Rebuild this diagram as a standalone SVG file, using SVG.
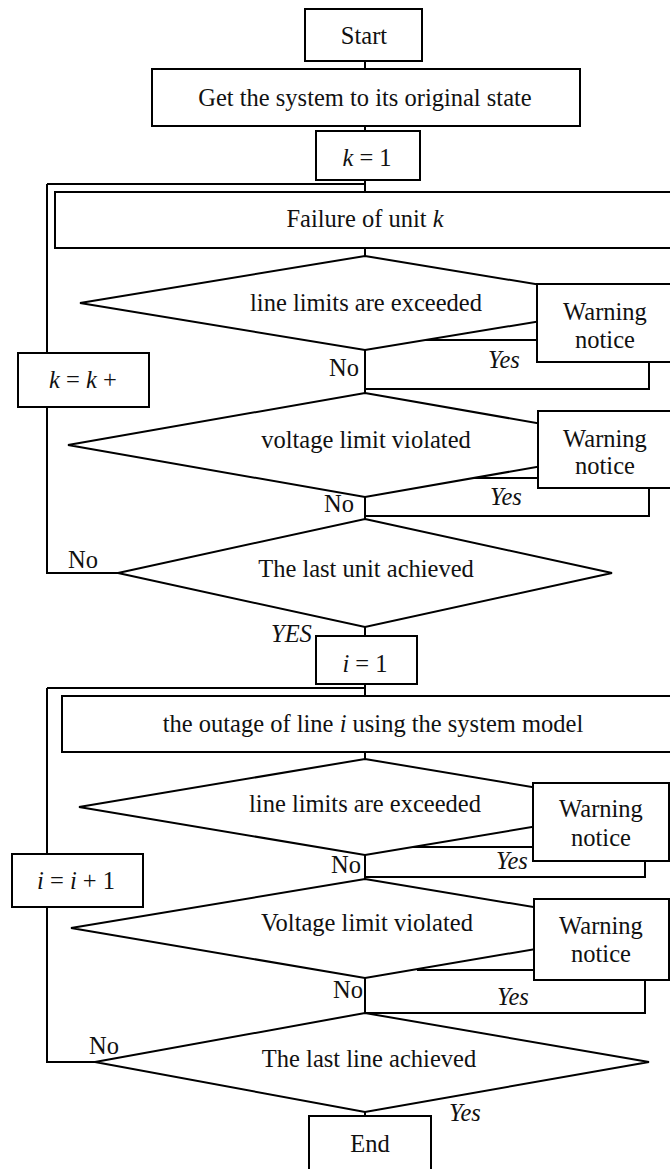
<svg xmlns="http://www.w3.org/2000/svg" width="670" height="1169" viewBox="0 0 670 1169">
<style>
.n{fill:#fff;stroke:#000;stroke-width:2}
.c{fill:none;stroke:#000;stroke-width:2}
text{font-family:"Liberation Serif","Times New Roman",serif;font-size:24.5px;fill:#111}
.m{text-anchor:middle}
.i{font-style:italic}
</style>
<rect width="670" height="1169" fill="#fff"/>
<g id="connectors">
<path class="c" d="M365,61V69M365,126V131M365,180V192M47,184H365M365,248V256"/>
<path class="c" d="M423,340H537M649,362V389H365M365,350V393"/>
<path class="c" d="M464,478H538M649,488V516H365M365,497V519"/>
<path class="c" d="M118,573H47V184"/>
<path class="c" d="M365,627V636M365,684V696M47,688H365M365,752V759"/>
<path class="c" d="M413,847H533M645,861V877H365M365,855V879"/>
<path class="c" d="M417,970H534M645,980V1013H365M365,978V1013"/>
<path class="c" d="M95,1062H47V688"/>
<path class="c" d="M365,1112V1116"/>
<text x="329" y="376">No</text>
<text class="i" x="488" y="368">Yes</text>
<text x="324" y="512">No</text>
<text class="i" x="490" y="505">Yes</text>
<text x="68" y="568">No</text>
<text class="i" x="271" y="642">YES</text>
<text x="331" y="873">No</text>
<text class="i" x="496" y="869">Yes</text>
<text x="333" y="998">No</text>
<text class="i" x="497" y="1005">Yes</text>
<text x="89" y="1054">No</text>
<text class="i" x="449" y="1121">Yes</text>
</g>
<g id="start"><rect class="n" x="305" y="9" width="117" height="52"/><text class="m" x="364" y="44">Start</text></g>
<g id="init"><rect class="n" x="152" y="69" width="428" height="57"/><text class="m" x="365" y="106">Get the system to its original state</text></g>
<g id="k1"><rect class="n" x="316" y="131" width="104" height="49"/><text class="m" x="367" y="166"><tspan class="i">k</tspan> = 1</text></g>
<g id="failure"><rect class="n" x="55" y="192" width="625" height="56"/><text class="m" x="365" y="227">Failure of unit <tspan class="i">k</tspan></text></g>
<g id="d1"><polygon class="n" points="365,256 650,303 365,350 80,303"/><text class="m" x="366" y="311">line limits are exceeded</text></g>
<g id="w1"><rect class="n" x="537" y="284" width="140" height="78"/><text class="m" x="605" y="320">Warning</text><text class="m" x="605" y="348">notice</text></g>
<g id="d2"><polygon class="n" points="365,393 662,445 365,497 68,445"/><text class="m" x="366" y="448">voltage limit violated</text></g>
<g id="w2"><rect class="n" x="538" y="411" width="140" height="77"/><text class="m" x="605" y="447">Warning</text><text class="m" x="605" y="474">notice</text></g>
<g id="d3"><polygon class="n" points="365,519 612,573 365,627 118,573"/><text class="m" x="366" y="577">The last unit achieved</text></g>
<g id="kinc"><rect class="n" x="18" y="353" width="131" height="54"/><text class="m" x="83" y="388"><tspan class="i">k</tspan> = <tspan class="i">k</tspan> +</text></g>
<g id="i1"><rect class="n" x="316" y="636" width="101" height="48"/><text class="m" x="365" y="672"><tspan class="i">i</tspan> = 1</text></g>
<g id="outage"><rect class="n" x="62" y="696" width="618" height="56"/><text class="m" x="373" y="732">the outage of line <tspan class="i">i</tspan> using the system model</text></g>
<g id="d4"><polygon class="n" points="365,759 651,807 365,855 79,807"/><text class="m" x="365" y="812">line limits are exceeded</text></g>
<g id="w3"><rect class="n" x="533" y="783" width="136" height="78"/><text class="m" x="601" y="817">Warning</text><text class="m" x="601" y="846">notice</text></g>
<g id="d5"><polygon class="n" points="365,879 659,928 365,978 71,928"/><text class="m" x="367" y="931">Voltage limit violated</text></g>
<g id="w4"><rect class="n" x="534" y="899" width="135" height="81"/><text class="m" x="601" y="934">Warning</text><text class="m" x="601" y="962">notice</text></g>
<g id="d6"><polygon class="n" points="365,1013 649,1062 365,1112 95,1062"/><text class="m" x="369" y="1067">The last line achieved</text></g>
<g id="iinc"><rect class="n" x="12" y="854" width="131" height="53"/><text class="m" x="76" y="889"><tspan class="i">i</tspan> = <tspan class="i">i</tspan> + 1</text></g>
<g id="end"><rect class="n" x="309" y="1116" width="122" height="60"/><text class="m" x="370" y="1152">End</text></g>
</svg>
